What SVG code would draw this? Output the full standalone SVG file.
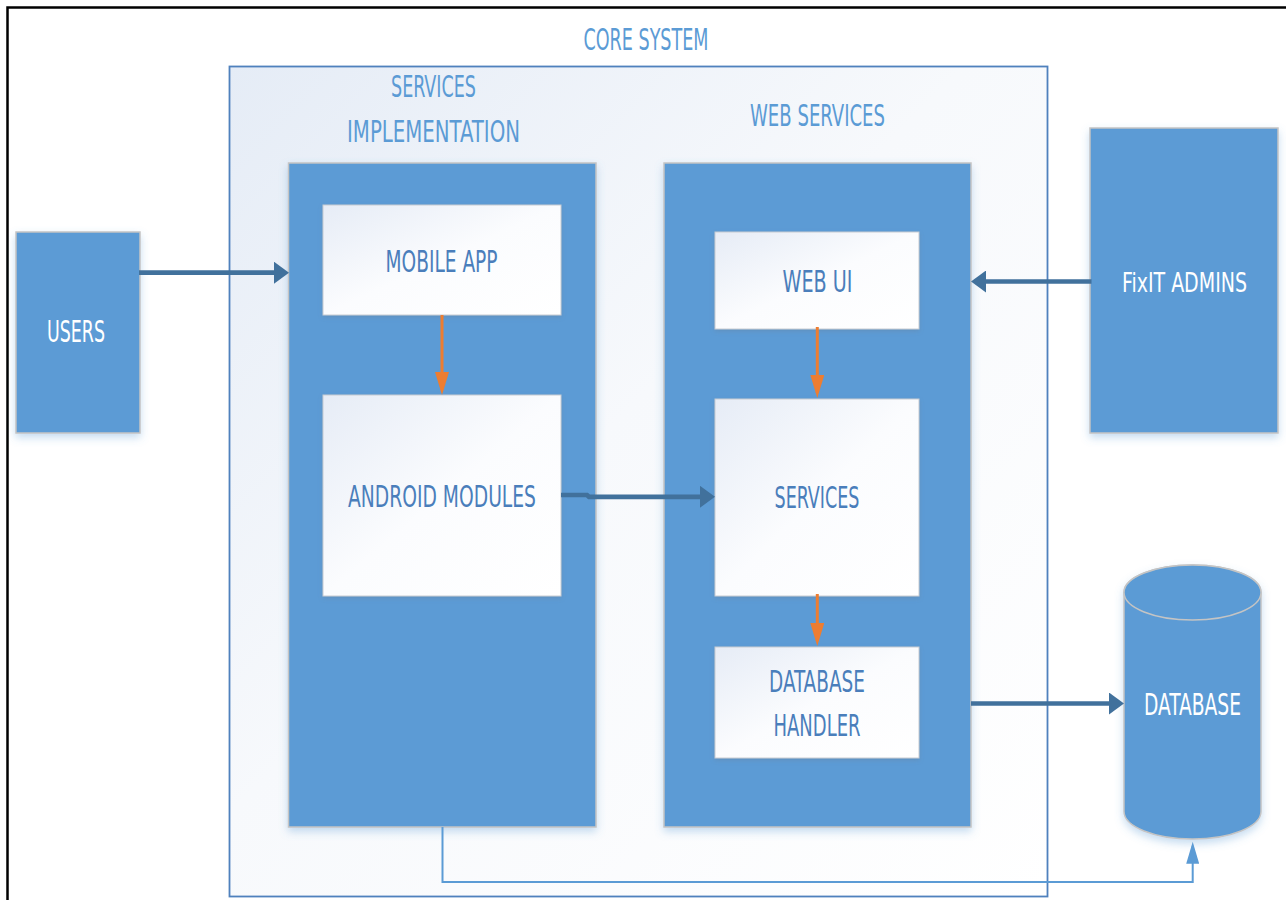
<svg xmlns="http://www.w3.org/2000/svg" width="1286" height="900" viewBox="0 0 1286 900">
<style>
  text { font-family: "Liberation Sans Narrow", "DejaVu Sans Condensed", "Liberation Sans", sans-serif; font-size: 30px; text-anchor: middle; }
  .title { fill: #5b9bd5; }
  .lbl { fill: #4a7ebb; }
  .wlbl { fill: #ffffff; }
  .blue { fill: #5b9bd5; stroke: #c4c4c4; stroke-width: 1.5; filter: url(#sh); }
  .white { fill: url(#wg); stroke: #c8ccd2; stroke-width: 1; filter: url(#sh2); }
  .dark { stroke: #41719c; stroke-width: 4.7; fill: none; marker-end: url(#mDark); }
  .orange { stroke: #ed7d31; stroke-width: 3; fill: none; marker-end: url(#mOrange); }
  .thin { stroke: #5b9bd5; stroke-width: 2; fill: none; marker-end: url(#mThin); }
</style>
<defs>
  <linearGradient id="cg" x1="0" y1="0" x2="1" y2="1">
    <stop offset="0" stop-color="#e5ecf6"/>
    <stop offset="0.45" stop-color="#f7f9fc"/>
    <stop offset="1" stop-color="#ffffff"/>
  </linearGradient>
  <linearGradient id="wg" x1="0" y1="0" x2="1" y2="1">
    <stop offset="0" stop-color="#e6ecf6"/>
    <stop offset="0.5" stop-color="#fbfcfe"/>
    <stop offset="1" stop-color="#ffffff"/>
  </linearGradient>
  <filter id="sh" x="-20%" y="-20%" width="140%" height="140%">
    <feDropShadow dx="0" dy="4" stdDeviation="4" flood-color="#5b9bd5" flood-opacity="0.35"/>
  </filter>
  <filter id="sh2" x="-20%" y="-20%" width="140%" height="140%">
    <feDropShadow dx="0" dy="2" stdDeviation="2" flood-color="#6a7a90" flood-opacity="0.3"/>
  </filter>
  <marker id="mDark" markerUnits="userSpaceOnUse" markerWidth="16" markerHeight="22" refX="10" refY="11" orient="auto">
    <path d="M0,0 L15,11 L0,22 Z" fill="#41719c"/>
  </marker>
  <marker id="mOrange" markerUnits="userSpaceOnUse" markerWidth="24" markerHeight="14" refX="18" refY="7" orient="auto">
    <path d="M0,0 L23,7 L0,14 Z" fill="#ed7d31"/>
  </marker>
  <marker id="mThin" markerUnits="userSpaceOnUse" markerWidth="23" markerHeight="13" refX="18" refY="6.5" orient="auto">
    <path d="M0,0 L22,6.5 L0,13 Z" fill="#5b9bd5"/>
  </marker>
</defs>

<rect x="7.5" y="7.5" width="1300" height="910" fill="#ffffff" stroke="#000000" stroke-width="2.5"/>

<g id="core-system">
  <rect x="229.5" y="66.5" width="818" height="830" fill="url(#cg)" stroke="#4f81bd" stroke-width="1.8"/>
  <text class="title" x="646" y="49.5" textLength="125" lengthAdjust="spacingAndGlyphs">CORE SYSTEM</text>
</g>

<g id="services-implementation">
  <rect class="blue" x="288.5" y="163" width="307.5" height="664"/>
  <text class="title" x="433.5" y="96.5" textLength="85" lengthAdjust="spacingAndGlyphs">SERVICES</text>
  <text class="title" x="433.5" y="141.5" textLength="173" lengthAdjust="spacingAndGlyphs">IMPLEMENTATION</text>
</g>

<g id="web-services">
  <rect class="blue" x="664" y="163" width="307" height="664"/>
  <text class="title" x="817.5" y="125.5" textLength="135" lengthAdjust="spacingAndGlyphs">WEB SERVICES</text>
</g>

<g id="users">
  <rect class="blue" x="16" y="232" width="124" height="201"/>
  <text class="wlbl" x="76" y="341.5" textLength="58" lengthAdjust="spacingAndGlyphs">USERS</text>
</g>

<g id="fixit-admins">
  <rect class="blue" x="1090" y="128" width="188" height="305"/>
  <text class="wlbl" x="1184.5" y="291.5" font-size="27" textLength="125" lengthAdjust="spacingAndGlyphs" style="font-size:27px">FixIT ADMINS</text>
</g>

<g id="mobile-app">
  <rect class="white" x="323" y="205" width="238" height="110"/>
  <text class="lbl" x="441.5" y="272" textLength="112" lengthAdjust="spacingAndGlyphs">MOBILE APP</text>
</g>

<g id="android-modules">
  <rect class="white" x="323" y="395" width="238" height="201"/>
  <text class="lbl" x="442" y="506.5" textLength="188" lengthAdjust="spacingAndGlyphs">ANDROID MODULES</text>
</g>

<g id="web-ui">
  <rect class="white" x="715" y="232" width="204" height="97"/>
  <text class="lbl" x="817.5" y="291.5" textLength="70" lengthAdjust="spacingAndGlyphs">WEB UI</text>
</g>

<g id="services">
  <rect class="white" x="715" y="399" width="204" height="197"/>
  <text class="lbl" x="817" y="507.5" textLength="85" lengthAdjust="spacingAndGlyphs">SERVICES</text>
</g>

<g id="database-handler">
  <rect class="white" x="715" y="647" width="204" height="111"/>
  <text class="lbl" x="817" y="692" textLength="96" lengthAdjust="spacingAndGlyphs">DATABASE</text>
  <text class="lbl" x="817" y="736" textLength="87" lengthAdjust="spacingAndGlyphs">HANDLER</text>
</g>

<g id="database">
  <path d="M1124,592.5 A68.5,27.5 0 0 1 1261,592.5 V811.5 A68.5,27.5 0 0 1 1124,811.5 Z" fill="#5b9bd5" stroke="#c4c4c4" stroke-width="1.5" filter="url(#sh)"/>
  <ellipse cx="1192.5" cy="592.5" rx="68.5" ry="27.5" fill="#5b9bd5" stroke="#c4c4c4" stroke-width="1.5"/>
  <text class="wlbl" x="1192.5" y="714.5" textLength="97" lengthAdjust="spacingAndGlyphs">DATABASE</text>
</g>

<g id="connectors">
  <path class="dark" d="M139,272.7 H284"/>
  <path class="dark" d="M1091.5,281.5 H976"/>
  <path class="dark" d="M561,495 H587 L589,496.8 H710"/>
  <path class="dark" d="M971,703.5 H1119"/>
  <path class="orange" d="M442,315 V390"/>
  <path class="orange" d="M817.3,327 V393"/>
  <path class="orange" d="M817.3,594 V641"/>
  <path class="thin" d="M442.5,827 V882 H1192.7 V845.7"/>
</g>
</svg>
